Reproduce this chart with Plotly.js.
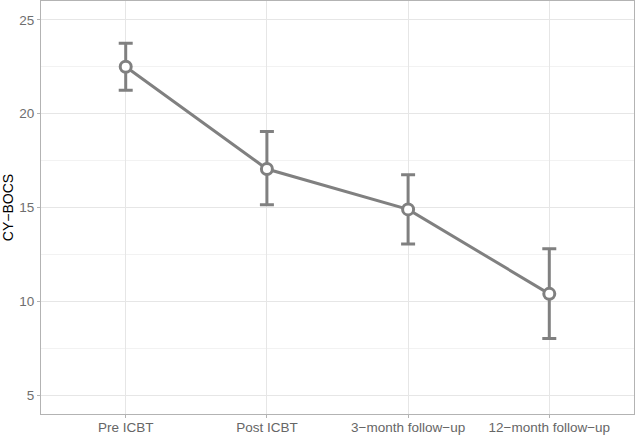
<!DOCTYPE html>
<html>
<head>
<meta charset="utf-8">
<script src="https://cdn.plot.ly/plotly-3.0.1.min.js"></script>
<style>
  html, body { margin: 0; padding: 0; background: #fff; }
  #chart { width: 636px; height: 435px; }
</style>
</head>
<body>
<div id="chart"></div>
<script>
// CY-BOCS means with error bars at each time point
const timepoints = ["Pre ICBT", "Post ICBT", "3\u2212month follow\u2212up", "12\u2212month follow\u2212up"];
const means = [22.5, 17.05, 14.9, 10.4];
const upper = [23.75, 19.05, 16.75, 12.8];
const lower = [21.25, 15.15, 13.05, 8.02];
const yTicks = [5, 10, 15, 20, 25];

const grey = "#808080";

const trace = {
  type: "scatter",
  mode: "lines+markers",
  x: timepoints,
  y: means,
  line: { color: grey, width: 3 },
  marker: { symbol: "circle", size: 11, color: "#ffffff", line: { color: grey, width: 3 } },
  error_y: {
    type: "data",
    symmetric: false,
    array: upper.map((u, i) => u - means[i]),
    arrayminus: lower.map((l, i) => means[i] - l),
    color: grey,
    thickness: 3,
    width: 7,
  },
  hoverinfo: "x+y",
  showlegend: false,
};

const layout = {
  width: 636,
  height: 435,
  margin: { l: 41, r: 2, t: 1, b: 21 },
  paper_bgcolor: "#ffffff",
  plot_bgcolor: "#ffffff",
  font: { family: "Liberation Sans, Arial, sans-serif", size: 13, color: "#666666" },
  xaxis: {
    type: "category",
    range: [-0.6, 3.6],
    showgrid: true,
    gridcolor: "#e6e6e6",
    gridwidth: 1,
    zeroline: false,
    showline: true,
    mirror: true,
    linecolor: "#b3b3b3",
    linewidth: 1,
    ticks: "outside",
    ticklen: 3,
    tickcolor: "#b3b3b3",
    ticklabelstandoff: -2,
    tickfont: { size: 13.5, color: "#666666" },
  },
  yaxis: {
    range: [4, 26],
    tickvals: yTicks,
    ticktext: yTicks.map(String),
    showgrid: true,
    gridcolor: "#e6e6e6",
    gridwidth: 1,
    minor: { dtick: 2.5, tick0: 2.5, showgrid: true, gridcolor: "#f2f2f2", gridwidth: 1 },
    zeroline: false,
    showline: true,
    mirror: true,
    linecolor: "#b3b3b3",
    linewidth: 1,
    ticks: "outside",
    ticklen: 3,
    tickcolor: "#b3b3b3",
    tickfont: { size: 13.5, color: "#6e6e6e" },
    title: { text: "CY\u2212BOCS", font: { size: 14, color: "#000000" }, standoff: 6 },
  },
};

Plotly.newPlot("chart", [trace], layout, { displayModeBar: false, staticPlot: true });
</script>
</body>
</html>
